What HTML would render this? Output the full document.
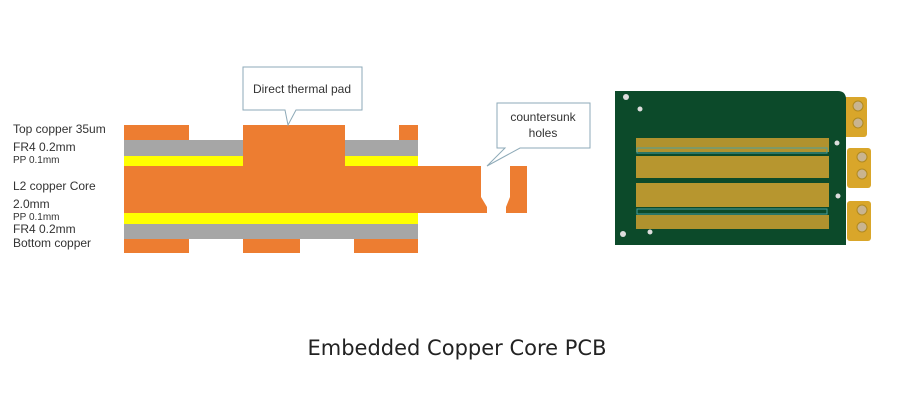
<!DOCTYPE html><html><head><style>body{margin:0;background:#fff;width:900px;height:400px;overflow:hidden;position:relative;font-family:"Liberation Sans",sans-serif}
.l{position:absolute;left:13px;color:#333;font-size:12px;white-space:nowrap}
</style></head><body>
<div class="l" style="top:122px">Top copper 35um</div>
<div class="l" style="top:140px">FR4 0.2mm</div>
<div class="l" style="top:155px;font-size:10px">PP 0.1mm</div>
<div class="l" style="top:179px">L2 copper Core</div>
<div class="l" style="top:197px">2.0mm</div>
<div class="l" style="top:212px;font-size:10px">PP 0.1mm</div>
<div class="l" style="top:222px">FR4 0.2mm</div>
<div class="l" style="top:236px">Bottom copper</div>
<svg width="900" height="400" style="position:absolute;left:0;top:0">
<g fill="#ed7d31">
<rect x="124" y="125" width="65" height="15"/><rect x="399" y="125" width="19" height="15"/>
<rect x="243" y="125" width="102" height="45"/>
<polygon points="124,166 481,166 481,197 487,207 487,213 124,213"/>
<polygon points="510,166 527,166 527,213 506,213 506,207 510,197"/>
<rect x="124" y="239" width="65" height="14"/><rect x="243" y="239" width="57" height="14"/><rect x="354" y="239" width="64" height="14"/>
</g>
<rect x="124" y="140" width="119" height="16" fill="#a6a6a6"/><rect x="345" y="140" width="73" height="16" fill="#a6a6a6"/>
<rect x="124" y="156" width="119" height="10" fill="#ffff00"/><rect x="345" y="156" width="73" height="10" fill="#ffff00"/>
<rect x="124" y="213" width="294" height="11" fill="#ffff00"/>
<rect x="124" y="224" width="294" height="15" fill="#a6a6a6"/>
<path d="M243,67 H362 V110 H296 L288,125 L285,110 H243 Z" fill="#fff" stroke="#8eaab8"/>
<text x="302" y="93" text-anchor="middle" font-size="12" fill="#333" font-family="Liberation Sans">Direct thermal pad</text>
<path d="M497,103 H590 V148 H520 L487,166 L505,148 H497 Z" fill="#fff" stroke="#8eaab8"/>
<text x="543" y="121" text-anchor="middle" font-size="12" fill="#333" font-family="Liberation Sans">countersunk</text>
<text x="543" y="137" text-anchor="middle" font-size="12" fill="#333" font-family="Liberation Sans">holes</text>
<g fill="#d9a62a"><rect x="843" y="97" width="24" height="40" rx="3"/><rect x="847" y="148" width="24" height="40" rx="3"/><rect x="847" y="201" width="24" height="40" rx="3"/></g>
<g fill="#c9b490" stroke="#b08a20"><circle cx="858" cy="106" r="5"/><circle cx="858" cy="123" r="5"/><circle cx="862" cy="157" r="5"/><circle cx="862" cy="174" r="5"/><circle cx="862" cy="210" r="5"/><circle cx="862" cy="227" r="5"/></g>
<path d="M615,91 H838 Q845,91 846,98 V245 H615 Z" fill="#0c4a2a"/>
<rect x="636" y="138" width="193" height="14" fill="#b0922e"/>
<rect x="636" y="156" width="193" height="22" fill="#b7962f"/>
<rect x="636" y="183" width="193" height="24" fill="#b7962f"/>
<rect x="636" y="215" width="193" height="14" fill="#b0922e"/>
<g fill="none" stroke="#4aa0a0" stroke-width="1"><rect x="637" y="148" width="190" height="5"/><rect x="637" y="209" width="190" height="5"/></g>
<g fill="#ddd"><circle cx="626" cy="97" r="3"/><circle cx="640" cy="109" r="2.5"/><circle cx="623" cy="234" r="3"/><circle cx="650" cy="232" r="2.5"/><circle cx="837" cy="143" r="2.5"/><circle cx="838" cy="196" r="2.5"/></g>
</svg>
<div style="position:absolute;left:0;width:914px;top:336px;text-align:center;font-family:'DejaVu Sans',sans-serif;font-size:21px;color:#222">Embedded Copper Core PCB</div>
</body></html>
